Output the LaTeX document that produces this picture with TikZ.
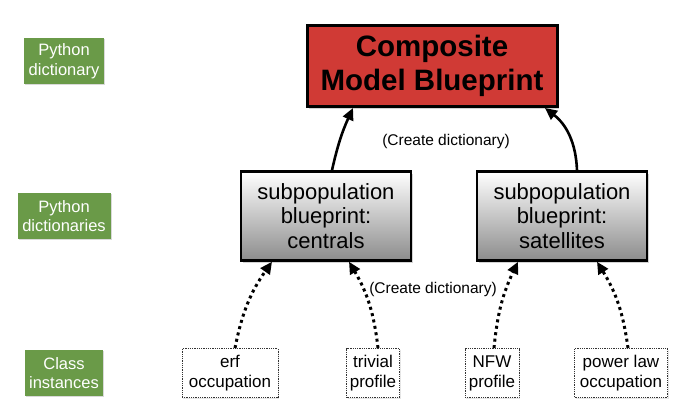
\documentclass[tikz,border=0pt]{standalone}
\usepackage{fontspec}
\setmainfont{Liberation Sans}
\usetikzlibrary{positioning}
\usetikzlibrary{shadows}
\usetikzlibrary{arrows.meta}

\definecolor{tagGreen}{HTML}{6A9A48}
\definecolor{modelRed}{HTML}{D03A35}

\tikzset{
  level tag/.style={fill=tagGreen, text=white, align=center, inner sep=0pt,
    minimum height=46pt, font=\fontsize{16.5}{19.5}\selectfont,
    drop shadow={shadow xshift=1pt, shadow yshift=-1pt, opacity=.3}},
  model box/.style={draw=black, line width=3pt, fill=modelRed, align=center,
    minimum width=250pt, minimum height=81pt, inner sep=0pt,
    font=\fontsize{29.5}{34}\selectfont\bfseries,
    drop shadow={shadow xshift=2pt, shadow yshift=-2pt, opacity=.35}},
  subpop box/.style={draw=black, line width=2.5pt, top color=white,
    bottom color=black!45, align=center, minimum width=170pt,
    minimum height=89pt, inner sep=0pt, font=\fontsize{22}{24.5}\selectfont,
    drop shadow={shadow xshift=2pt, shadow yshift=-2pt, opacity=.35}},
  instance box/.style={draw=black!80, densely dotted, line width=.8pt,
    fill=white, align=center, minimum height=49pt, inner sep=0pt,
    font=\fontsize{17}{20}\selectfont,
    drop shadow={shadow xshift=1pt, shadow yshift=-1pt, opacity=.2}},
  build/.style={line width=2.6pt, -{Triangle[length=12pt, width=11pt]}},
  inst link/.style={build, line width=3pt, dash pattern=on 3pt off 3.5pt}
}

\begin{document}
\begin{tikzpicture}[x=1pt, y=-1pt]

\useasboundingbox (0,0) rectangle (686,415);

% row labels on the left
\foreach \t/\w/\y [count=\i] in {Python\\dictionary/80/61,
    Python\\dictionaries/93/216, Class\\instances/78/373}
  \node [level tag, minimum width=\w pt] (tag-\i) at (64,\y) {\t};

\node [model box] (model) at (432,66) {Composite\\Model Blueprint};

\node [subpop box] (centrals) at (326,216) {subpopulation\\blueprint:\\centrals};
\node [subpop box] (satellites) at (562,216) {subpopulation\\blueprint:\\satellites};

\node [instance box, minimum width=96pt] (erf) at (230,373) {erf\\occupation};
\node [instance box, minimum width=53pt] (trivial) at (373,373) {trivial\\profile};
\node [instance box, minimum width=54pt] (nfw) at (492,373) {NFW\\profile};
\node [instance box, minimum width=93pt] (powerlaw) at (621,373) {power law\\occupation};

\draw [build] (centrals.north -| 332,0) to [bend left=6] (model.south -| 353,0);
\draw [build] (satellites.north -| 577,0) to [bend right=25] (model.south -| 545,0);

\node [font=\fontsize{15.5}{18}\selectfont] (create-1) at (446,141) {(Create dictionary)};
\node [font=\fontsize{15.5}{18}\selectfont] (create-2) at (433,289) {(Create dictionary)};

\draw [inst link] (erf.north -| 235,0) to [bend left=12] (centrals.south -| 272,0);
\draw [inst link] (trivial.north -| 378,0) to [bend right=12] (centrals.south -| 349,0);
\draw [inst link] (nfw.north -| 494,0) to [bend left=10] (satellites.south -| 518,0);
\draw [inst link] (powerlaw.north -| 628,0) to [bend right=12] (satellites.south -| 597,0);

\end{tikzpicture}
\end{document}
